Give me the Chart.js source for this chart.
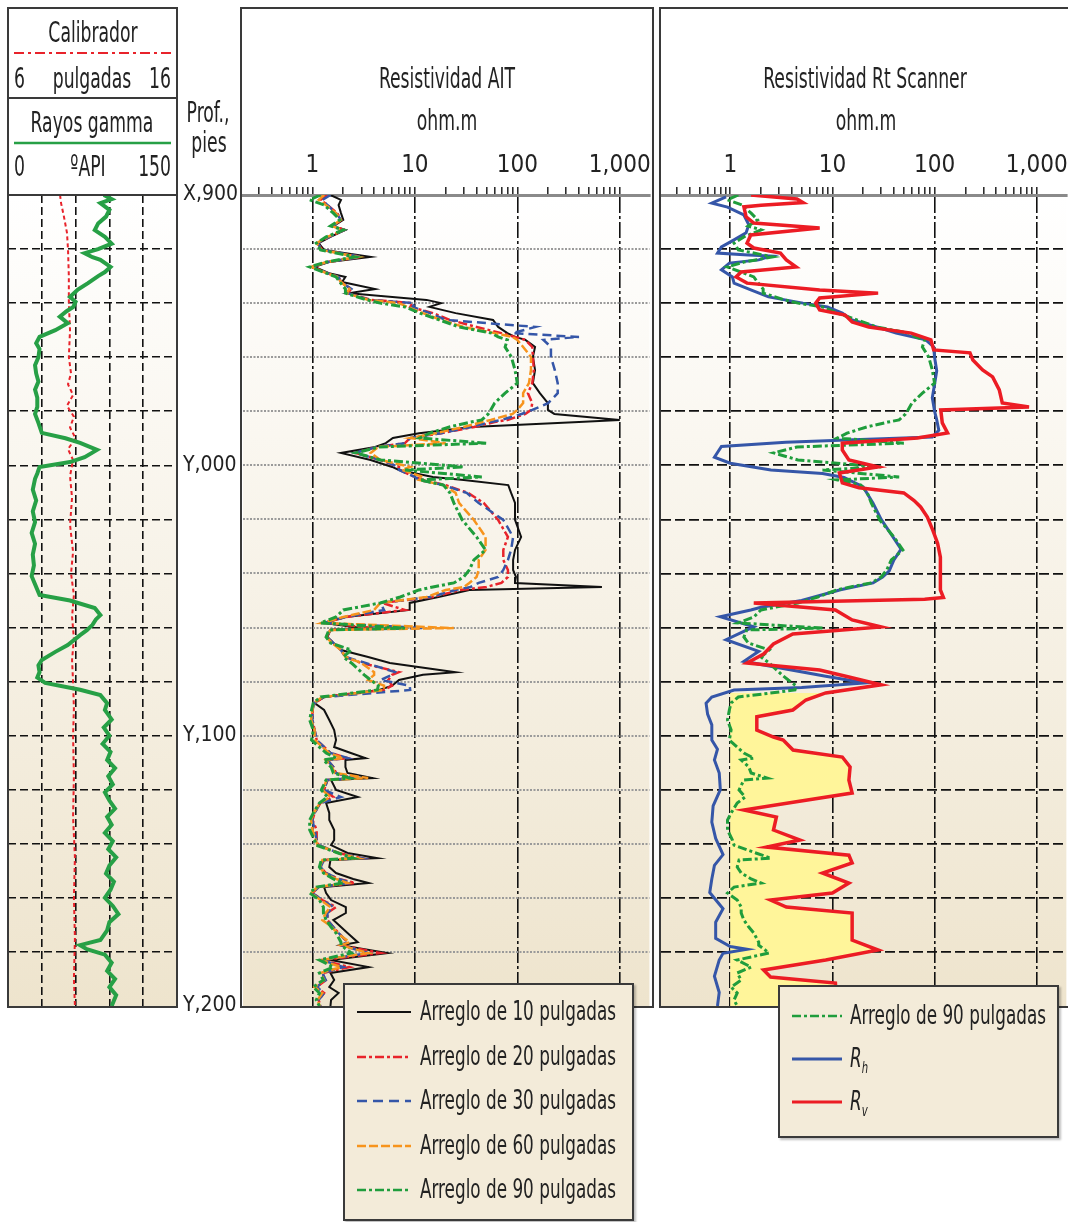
<!DOCTYPE html>
<html lang="es">
<head>
<meta charset="utf-8">
<title>Resistividad AIT y Rt Scanner</title>
<script src="https://cdn.jsdelivr.net/npm/chart.js@4.4.1/dist/chart.umd.min.js"></script>
<style>
  html, body { margin: 0; padding: 0; }
  body { width: 1068px; height: 1222px; overflow: hidden; position: relative; background: #fff;
         font-family: "Liberation Sans Narrow", "Arial Narrow", "DejaVu Sans Condensed", sans-serif; color: #222; }
  .box { position: absolute; border: 2px solid #3a3a3a; box-sizing: border-box; pointer-events: none; z-index: 2; }
  .hline { position: absolute; height: 0; border-top: 2px solid #3a3a3a; z-index: 2; }
  .plot { position: absolute; z-index: 1; }
  .lbl { position: absolute; white-space: nowrap; z-index: 3; }
  .legend { position: absolute; background: #f3ebd9; border: 2px solid #3a3a3a; box-sizing: border-box;
            box-shadow: 2px 2px 2px rgba(0,0,0,0.25); z-index: 4; }
  .legend svg { position: absolute; }
</style>
</head>
<body>

<div class="plot" style="left:8px;top:195px;width:169px;height:811px"><canvas id="track1" width="169" height="811"></canvas></div>
<div class="plot" style="left:183px;top:150px;width:475px;height:876px"><canvas id="track2" width="475" height="876"></canvas></div>
<div class="plot" style="left:661px;top:150px;width:414px;height:876px"><canvas id="track3" width="414" height="876"></canvas></div>

<div class="box" style="left:7px;top:7px;width:171px;height:1001px"></div>
<div class="hline" style="left:7px;top:97px;width:171px"></div>
<div class="hline" style="left:7px;top:194px;width:171px"></div>
<div class="box" style="left:240px;top:7px;width:414px;height:1001px"></div>
<div class="box" style="left:659px;top:7px;width:420px;height:1001px"></div>

<svg style="position:absolute;left:0;top:0;z-index:3" width="180" height="160">
  <line x1="14" y1="53" x2="171" y2="53" stroke="#e8232b" stroke-width="2" stroke-dasharray="10,4,3,4"/>
  <line x1="14" y1="143" x2="171" y2="143" stroke="#27a046" stroke-width="2.5"/>
</svg>

<div class="legend" id="legend1" style="left:343px;top:983px;width:291px;height:238px"></div>
<div class="legend" id="legend2" style="left:778px;top:985px;width:281px;height:153px"></div>

<script>
// depth in feet below X,900 (0 = X,900, 300 = Y,200)
const depthGrid = [0, 20, 40, 60, 80, 100, 120, 140, 160, 180, 200, 220, 240, 260, 280, 300];
const depthMarks = [0, 100, 200, 300];
const depthLabels = ['X,900', 'Y,000', 'Y,100', 'Y,200'];

const logTicks = [0.3, 0.4, 0.5, 0.6, 0.7, 0.8, 0.9, 1, 2, 3, 4, 5, 6, 7, 8, 9, 10, 20, 30, 40, 50, 60, 70, 80, 90,
                  100, 200, 300, 400, 500, 600, 700, 800, 900, 1000];
const decadeValues = [1, 10, 100, 1000];
const decadeLabels = ['1', '10', '100', '1,000'];
const grTicks = [0, 30, 60, 90, 120, 150];

// caliper (in)
const calDepth = [0, 3, 8, 14, 20, 30, 40, 50, 60, 66, 70, 74, 78, 82, 86, 90, 94, 98, 104, 112, 122, 132, 140, 148,
                  156, 164, 172, 180, 190, 200, 215, 230, 245, 260, 275, 290, 300];
const calVal = [9.08, 9.14, 9.31, 9.49, 9.55, 9.6, 9.6, 9.67, 9.6, 9.73, 9.55, 9.85, 9.49, 9.9, 9.67, 10.0, 9.55, 9.85,
                9.67, 9.79, 9.67, 9.85, 9.73, 9.9, 9.79, 9.9, 9.79, 9.85, 9.9, 9.85, 9.9, 9.85, 9.96, 9.9, 9.96, 9.9, 9.96];

// gamma ray (API)
const grDepth = [0, 1.5, 3, 5.5, 8, 10.5, 13, 15.5, 18, 20, 21.5, 23, 24, 26.6, 28.5, 30, 32.6, 35, 37.7, 39.5, 41.4,
                 43, 45, 47.4, 50, 52.5, 54.8, 57, 60, 63, 66, 69, 72, 75, 78.4, 81, 84.3, 88, 90, 91.7, 94.3, 97,
                 98.8, 100.6, 103, 105, 109, 113, 117, 121, 125, 129, 133, 137, 141, 144, 148, 150, 152.8, 155.4, 157,
                 159, 161, 162.8, 166.5, 169, 172, 174, 176.5, 178.5, 180.5, 183, 185, 188, 190.5, 194, 197, 200, 203,
                 206, 209, 212, 215, 218, 221, 224, 227, 230, 233, 236, 239, 242, 245, 248, 251, 254, 257, 260, 263,
                 266, 269, 272, 275.6, 277.5, 279, 281, 284, 287, 290, 293, 296, 300];
const grVal = [85, 92, 82, 90, 87, 80, 77, 86, 92, 80, 68, 75, 82, 91, 86, 80, 71, 62, 55, 60, 58,
               52, 46, 53, 42, 28, 25, 28, 27, 24, 25, 27, 24, 26, 26, 24, 27, 30, 51, 64, 79, 68,
               55, 28, 26, 24, 22, 25, 22, 24, 21, 24, 22, 23, 21, 24, 28, 55, 77, 82, 78,
               75, 70, 64, 53, 42, 30, 27, 28, 26, 33, 64, 82, 88, 86, 92, 85, 90, 84,
               91, 88, 95, 89, 93, 86, 90, 95, 88, 92, 86, 93, 89, 96, 90, 87, 94, 91, 86, 93,
               98, 90, 88, 82, 64, 70, 86, 92, 88, 95, 90, 96, 92];

// AIT array resistivities (ohm.m), one shared depth list
const aitDepth = [0, 1.8, 3.7, 6.7, 9.2, 11.5, 12.9, 15.5, 17.8, 20.3,
  22.9, 24.8, 26.6, 28.9, 30.3, 32.2, 34.8, 36.3, 38.8, 40.0,
  41.4, 43.7, 46.2, 48.8, 51.1, 52.5, 53.6, 56.2, 59.9, 64.7,
  69.6, 73.3, 77.0, 79.5, 81.0, 83.2, 84.0, 85.8, 88.1, 89.9,
  91.8, 93.2, 95.4, 98.0, 100.6, 101.7, 104.3, 105.4, 107.3, 110.2,
  113.9, 120.2, 126.5, 131.3, 135.0, 138.7, 141.3, 143.5, 145.0, 146.1,
  148.7, 150.9, 153.5, 156.1, 158.3, 160.2, 160.9, 163.5, 165.7, 168.3,
  170.9, 173.1, 176.5, 177.5, 179.4, 181.5, 183.1, 185.7, 187.9, 190.5,
  194.2, 197.9, 201.6, 204.2, 206.4, 208.3, 209.0, 211.6, 213.8, 215.7,
  216.4, 220.1, 222.7, 224.9, 228.6, 231.2, 234.9, 238.6, 240.5, 243.4,
  245.3, 246.0, 248.6, 250.8, 253.0, 254.5, 256.0, 258.2, 260.8, 263.4,
  265.6, 268.2, 270.8, 273.0, 276.4, 277.5, 280.4, 283.0, 285.6, 287.8,
  290.4, 293.0, 295.2, 297.8, 300];
const ait10 = [1.5, 1.9, 1.8, 1.9, 2.0, 1.6, 2.1, 1.5, 1.15, 1.3,
  3.7, 1.45, 1.05, 1.45, 2.1, 1.95, 4.1, 2.3, 13, 18,
  13.9, 25, 58, 65, 80, 95, 120, 149, 142, 149,
  142, 166, 199, 199, 230, 1000, 400, 36, 11, 6.1,
  5.2, 4.1, 1.9, 3.7, 6, 7, 15, 30, 81.6, 87,
  95, 95, 109, 95, 91, 91, 97, 95, 670, 34,
  17, 8.9, 8.9, 2.1, 1.3, 3, 1.5, 1.4, 1.6, 1.9,
  3.5, 5.7, 25, 12, 7, 6, 4.5, 1.3, 1.05, 1.3,
  1.46, 1.63, 1.7, 1.63, 2.37, 3.3, 2.1, 2.1, 2.2, 3.86,
  1.52, 1.7, 2.77, 1.36, 1.46, 1.46, 1.63, 1.63, 1.52, 2.2,
  4.3, 1.5, 1.46, 1.7, 2.5, 3.54, 1.3, 1.36, 1.52, 2.12,
  2.12, 1.6, 1.9, 2.2, 2.77, 1.9, 5.4, 1.5, 3.54, 1.5,
  1.63, 1.46, 1.8, 1.52, 1.5];
const ait20 = [1.4, 1.2, 1.4, 1.75, 1.9, 1.6, 2.05, 1.45, 1.12, 1.25,
  3.0, 1.4, 1.0, 1.4, 1.8, 1.9, 2.4, 2.2, 3.8, 9.5,
  9, 15, 22, 40, 70, 95, 120, 140, 142, 145,
  140, 127, 140, 136, 120, 80, 60, 38, 18, 9,
  8, 4.3, 2.6, 4.6, 7, 7, 10, 12, 20, 33,
  47, 65, 81, 73, 73, 81, 81, 70, 50, 28,
  15, 4.8, 8, 2.1, 1.3, 4, 1.5, 1.38, 1.6, 1.9,
  2.1, 3, 7, 6, 5.5, 6, 5, 1.3, 1.05, 1.0,
  1.0, 1.05, 1.1, 1.3, 1.5, 2.2, 1.4, 1.6, 1.7, 2.5,
  1.4, 1.3, 1.6, 1.2, 1.05, 1.0, 1.1, 1.1, 1.15, 1.8,
  3, 1.3, 1.2, 1.35, 1.8, 2.6, 1.15, 1.0, 1.25, 1.7,
  1.4, 1.4, 1.6, 1.8, 2.2, 1.9, 4.6, 1.25, 2.3, 1.25,
  1.35, 1.1, 1.3, 1.15, 1.2];
const ait30 = [1.5, 1.25, 1.4, 1.7, 1.9, 1.6, 2.05, 1.45, 1.12, 1.25,
  3.0, 1.4, 1.0, 1.4, 1.8, 1.9, 2.4, 2.2, 3.6, 10,
  9.5, 14, 20, 150, 90, 400, 180, 213, 213, 232,
  248, 248, 200, 140, 110, 70, 55, 35, 18, 9,
  8, 4.3, 2.6, 4.6, 7, 7, 10, 11, 19, 32,
  42, 73, 91, 87, 81, 73, 65, 42, 35, 25,
  14, 4.6, 5, 2.1, 1.3, 12, 1.5, 1.38, 1.6, 1.9,
  2.1, 3.3, 6.4, 6, 4.6, 8.9, 9, 1.3, 1.05, 1.0,
  1.0, 1.05, 1.1, 1.3, 1.5, 2.2, 1.4, 1.6, 1.7, 2.5,
  1.4, 1.3, 1.9, 1.2, 1.05, 1.0, 1.05, 1.1, 1.15, 1.8,
  3, 1.3, 1.2, 1.35, 1.8, 2.4, 1.15, 1.0, 1.25, 1.6,
  1.4, 1.4, 1.6, 1.8, 2.2, 1.9, 3.5, 1.25, 2.0, 1.25,
  1.35, 1.1, 1.3, 1.15, 1.2];
const ait60 = [1.3, 1.15, 1.35, 1.7, 1.9, 1.55, 2.0, 1.4, 1.1, 1.22,
  2.8, 1.38, 0.97, 1.38, 1.75, 1.9, 2.3, 2.15, 3.5, 7,
  8.5, 12, 18, 30, 60, 90, 100, 114, 136, 136,
  130, 114, 114, 100, 90, 55, 45, 30, 16, 9,
  20, 4.4, 3.7, 4.6, 9, 7.5, 12, 11, 19, 25,
  27, 37.7, 49, 49, 42, 42, 40, 34, 30, 20,
  13, 4.6, 4, 2.0, 1.25, 24, 1.5, 1.36, 1.55, 1.9,
  2.1, 3, 4, 4, 3.5, 5, 5, 1.25, 1.03, 1.0,
  0.97, 1.05, 1.05, 1.25, 1.45, 2.0, 1.35, 1.55, 1.65, 3.5,
  1.38, 1.25, 1.5, 1.18, 1.03, 0.97, 1.0, 1.08, 1.12, 1.8,
  2.8, 1.25, 1.18, 1.3, 1.7, 2.2, 1.12, 0.97, 1.2, 1.5,
  1.35, 1.25, 1.55, 1.75, 2.3, 1.9, 3.5, 1.2, 1.9, 1.2,
  1.3, 1.05, 1.25, 1.12, 1.18];
const ait90 = [1.2, 0.94, 1.3, 1.6, 1.85, 1.5, 2.0, 1.36, 1.09, 1.2,
  2.6, 1.36, 0.94, 1.36, 1.7, 1.85, 2.1, 2.1, 3.4, 4.6,
  8.0, 11.2, 17.3, 27, 56, 65, 80, 76, 87.5, 95,
  100, 76, 60, 55, 52, 45, 35, 21.7, 13.9, 11.2,
  50, 4.5, 2.65, 4.6, 30, 8, 45, 11.2, 19, 22,
  24, 29, 40, 49, 37.7, 34, 30, 24, 15, 11,
  7.2, 4.6, 2, 1.7, 1.2, 8, 1.45, 1.36, 1.5, 2.4,
  2.0, 2.4, 3.0, 3.2, 3.7, 4.4, 4.3, 1.2, 1.02, 0.98,
  0.94, 1.02, 0.98, 1.17, 1.36, 1.7, 1.28, 1.52, 1.6, 2.3,
  1.36, 1.22, 1.4, 1.17, 1.02, 0.94, 0.94, 1.05, 1.09, 1.78,
  2.5, 1.22, 1.17, 1.28, 1.6, 2.0, 1.09, 0.94, 1.17, 1.28,
  1.28, 1.36, 1.52, 1.7, 1.9, 1.9, 2.4, 1.17, 1.6, 1.17,
  1.28, 1.02, 1.17, 1.09, 1.17];

// Rt Scanner: horizontal (Rh) and vertical (Rv) resistivity
const rhDepth = [0.7, 3, 4.5, 7.4, 11, 14, 16.6, 19.2, 21.5, 22.2,
  22.6, 24, 25.2, 27.7, 30.3, 32.6, 35.1, 37.7, 40, 41.4,
  43.7, 46.2, 48.8, 51.1, 53.6, 56.2, 60, 65, 70, 75,
  80, 83.2, 87, 89.5, 90.5, 91.5, 93, 97, 99.2, 101.7,
  103, 104.5, 108, 114, 120, 127, 131, 135, 139, 141.3,
  143.5, 146, 150, 152.5, 153.5, 156, 159.7, 164.5, 168.8, 172.5,
  178, 180.5, 182.2, 183.1, 185.7, 188, 192, 196, 201.6, 205,
  209, 213.8, 220, 226, 232, 238, 244, 248, 253, 258,
  264, 269, 275, 278, 279, 280.5, 283, 289, 295, 300];
const rhVal = [0.91, 0.66, 0.94, 1.36, 1.52, 1.43, 1.09, 0.82, 0.75, 1.5,
  2.5, 1.9, 0.98, 0.82, 1.05, 1.09, 1.59, 2.37, 5.15, 8.94,
  12.5, 15.6, 27, 42, 82, 98, 100, 105, 100, 95,
  100, 105, 110, 95, 16, 3.5, 0.82, 0.7, 1.0, 2.5,
  8, 13, 20, 25, 30, 40, 47, 40, 36, 31,
  25, 12, 5, 2, 1.59, 0.8, 1.7, 0.91, 1.9, 1.36,
  8.6, 21, 5, 1.09, 0.66, 0.58, 0.6, 0.66, 0.66, 0.75,
  0.7, 0.78, 0.8, 0.68, 0.66, 0.72, 0.85, 0.7, 0.66, 0.63,
  0.85, 0.72, 0.72, 1.0, 1.46, 0.85, 0.78, 0.7, 0.78, 0.75];
const rvDepth = [0, 1.5, 2.8, 3.8, 4.4, 8.1, 10.4, 12.2, 14.8, 17.8,
  19.6, 21.5, 24, 26.6, 28.5, 30.3, 32.6, 35.1, 36.3, 38.1,
  40, 42.5, 44.4, 47, 48.8, 51.1, 53.6, 57.3, 58.4, 61,
  64.7, 67.3, 72.1, 76.9, 78.4, 79.5, 84.3, 88, 89.9, 91.8,
  94.3, 98, 100.6, 102.8, 106.5, 108.3, 110.2, 113, 115.4, 119.1,
  124, 128.8, 134, 138.7, 146.1, 148.9, 149.5, 150.9, 153.5, 157.2,
  159.8, 162.4, 166.1, 169.8, 173.1, 175.7, 178.3, 181.2, 184.2, 186.8,
  190.5, 193, 197.9, 200.5, 201.6, 205.3, 207.9, 211.6, 216.4, 221.2,
  224.6, 227.5, 230.1, 234.9, 238.6, 241.2, 244.2, 247.1, 250.8, 254.5,
  258.2, 260.8, 263.4, 265.6, 270.8, 275.6, 279.3, 283, 286.7, 289.3,
  291.5, 300];
const rvVal = [1.6, 4.5, 5.15, 2, 1.36, 1.43, 1.7, 7.5, 1.59, 1.46,
  1.7, 3.1, 3.54, 4.41, 1.28, 1.14, 1.46, 7.5, 28, 7.5,
  6.86, 7.5, 13.3, 15.6, 22.7, 59, 92, 98, 222, 237,
  295, 370, 430, 460, 840, 115, 119, 134, 68, 12.5,
  12.5, 14.5, 28, 11.7, 12.5, 18.2, 50, 63, 73, 85,
  96, 107, 114, 114, 114, 122, 80, 1.7, 10.7, 15.6,
  30, 4.1, 2.65, 2.12, 1.46, 7.5, 14.5, 30, 8.6, 5.5,
  4.1, 1.82, 1.82, 2.65, 3.3, 4.12, 12.5, 14.9, 14.5, 15.6,
  4.12, 1.36, 2.83, 2.65, 4.81, 2.27, 14.5, 15.6, 8.0, 14.5,
  10, 2.48, 3.54, 15.6, 15.6, 15.6, 28, 8.6, 2.12, 2.48,
  10.7, 11];
const anisoTop = 183; // yellow shading starts here

const NARROW = '"Liberation Sans Narrow", "Arial Narrow", "DejaVu Sans Condensed", sans-serif';
const LOG_MIN = 0.21;
const LOG_MAX = 1950;

function pts(depths, vals) {
    return depths.map((d, i) => ({ x: vals[i], y: d }));
}

// beige gradient behind each plot area
const plotBackground = {
    id: 'plotBackground',
    beforeDraw(chart) {
        const { ctx, chartArea: a } = chart;
        const g = ctx.createLinearGradient(0, a.top, 0, a.bottom);
        g.addColorStop(0, '#ffffff');
        g.addColorStop(1, '#eee4cd');
        ctx.save();
        ctx.fillStyle = g;
        ctx.fillRect(a.left, a.top, a.right - a.left, a.bottom - a.top);
        ctx.restore();
    }
};

function curve(label, data, color, width, dash, order, xAxisID) {
    return {
        label: label, data: data, borderColor: color, borderWidth: width, borderDash: dash,
        pointRadius: 0, fill: false, tension: 0, order: order, xAxisID: xAxisID || 'x'
    };
}

function logAxis() {
    return {
        type: 'logarithmic', position: 'top', min: LOG_MIN, max: LOG_MAX,
        afterBuildTicks: s => { s.ticks = logTicks.map(v => ({ value: v })); },
        afterFit: s => { s.height = 45; },
        ticks: {
            autoSkip: false, maxRotation: 0, minRotation: 0, padding: 7, color: '#222',
            font: { family: NARROW, size: 24 },
            callback: v => {
                const i = decadeValues.indexOf(v);
                return i >= 0 ? decadeLabels[i] : '';
            }
        },
        grid: {
            color: c => (c.tick && decadeValues.includes(c.tick.value)) ? '#111' : 'rgba(0,0,0,0)',
            lineWidth: 1.6, tickLength: 8, tickColor: '#222', tickWidth: 1.5
        },
        border: { display: true, color: '#8a8a8a', width: 3, dash: [16, 3, 3, 3] }
    };
}

const baseOptions = {
    indexAxis: 'y',
    responsive: false,
    animation: false,
    devicePixelRatio: 1,
    plugins: { legend: { display: false }, tooltip: { enabled: false } }
};

function initTrack1() {
    const ctx = document.getElementById('track1').getContext('2d');
    new Chart(ctx, {
        type: 'line',
        data: {
            datasets: [
                curve('Rayos gamma', pts(grDepth, grVal), '#27a046', 4, [], 1, 'xgr'),
                curve('Calibrador', pts(calDepth, calVal), '#e8232b', 2, [4, 3], 2, 'xcal')
            ]
        },
        options: Object.assign({}, baseOptions, {
            layout: { padding: 0 },
            scales: {
                xgr: {
                    type: 'linear', position: 'top', min: 0, max: 150,
                    afterBuildTicks: s => { s.ticks = grTicks.map(v => ({ value: v })); },
                    afterFit: s => { s.height = 0; },
                    ticks: { display: false },
                    grid: {
                        drawTicks: false, lineWidth: 1.6,
                        color: c => (c.tick && c.tick.value > 0 && c.tick.value < 150) ? '#111' : 'rgba(0,0,0,0)'
                    },
                    border: { display: false, dash: [8, 4] }
                },
                xcal: { type: 'linear', min: 6, max: 16, display: false },
                y: {
                    type: 'linear', reverse: true, min: 0, max: 300,
                    afterBuildTicks: s => { s.ticks = depthGrid.map(v => ({ value: v })); },
                    afterFit: s => { s.width = 0; },
                    ticks: { display: false },
                    grid: {
                        drawTicks: false, lineWidth: 1.6,
                        color: c => (c.tick && c.tick.value > 0 && c.tick.value < 300) ? '#111' : 'rgba(0,0,0,0)'
                    },
                    border: { display: false, dash: [8, 4] }
                }
            }
        }),
        plugins: [plotBackground]
    });
}

function initTrack2() {
    const ctx = document.getElementById('track2').getContext('2d');
    new Chart(ctx, {
        type: 'line',
        data: {
            datasets: [
                curve('Arreglo de 10 pulgadas', pts(aitDepth, ait10), '#111111', 2, [], 5),
                curve('Arreglo de 20 pulgadas', pts(aitDepth, ait20), '#e8232b', 2.5, [9, 3, 3, 3], 4),
                curve('Arreglo de 30 pulgadas', pts(aitDepth, ait30), '#3556a8', 2.5, [9, 5], 3),
                curve('Arreglo de 60 pulgadas', pts(aitDepth, ait60), '#f7941d', 2.5, [9, 3], 2),
                curve('Arreglo de 90 pulgadas', pts(aitDepth, ait90), '#1f9d3c', 3, [9, 3, 3, 3], 1)
            ]
        },
        options: Object.assign({}, baseOptions, {
            layout: { padding: { left: 0, right: 5, top: 0, bottom: 20 } },
            scales: {
                x: logAxis(),
                y: {
                    type: 'linear', reverse: true, min: 0, max: 300, position: 'left',
                    afterBuildTicks: s => { s.ticks = depthGrid.map(v => ({ value: v })); },
                    afterFit: s => { s.width = 60; },
                    ticks: {
                        autoSkip: false, padding: 0, crossAlign: 'far', color: '#222',
                        font: { family: NARROW, size: 21 },
                        callback: v => {
                            const i = depthMarks.indexOf(v);
                            return i >= 0 ? depthLabels[i] : '';
                        }
                    },
                    grid: {
                        drawTicks: false, lineWidth: 2,
                        color: c => (c.tick && c.tick.value > 0 && c.tick.value < 300) ? '#9a9a9a' : 'rgba(0,0,0,0)'
                    },
                    border: { display: false, dash: [2, 1.5] }
                }
            }
        }),
        plugins: [plotBackground]
    });
}

function initTrack3() {
    const ctx = document.getElementById('track3').getContext('2d');
    const shaded = pts(rvDepth, rvVal).filter(p => p.y >= anisoTop);
    new Chart(ctx, {
        type: 'line',
        data: {
            datasets: [
                {
                    label: 'anisotropia', data: shaded, borderWidth: 0, pointRadius: 0, tension: 0,
                    fill: { value: 1 }, backgroundColor: '#fff59a', order: 10
                },
                curve('Arreglo de 90 pulgadas', pts(aitDepth, ait90), '#1f9d3c', 3, [9, 3, 3, 3], 2),
                curve('Rh', pts(rhDepth, rhVal), '#3556a8', 3, [], 3),
                curve('Rv', pts(rvDepth, rvVal), '#ec1c24', 3.5, [], 1)
            ]
        },
        options: Object.assign({}, baseOptions, {
            layout: { padding: { left: 0, right: 5, top: 0, bottom: 20 } },
            scales: {
                x: logAxis(),
                y: {
                    type: 'linear', reverse: true, min: 0, max: 300,
                    afterBuildTicks: s => { s.ticks = depthGrid.map(v => ({ value: v })); },
                    afterFit: s => { s.width = 0; },
                    ticks: { display: false },
                    grid: {
                        drawTicks: false, lineWidth: 1.8,
                        color: c => (c.tick && c.tick.value > 0 && c.tick.value < 300) ? '#111' : 'rgba(0,0,0,0)'
                    },
                    border: { display: false, dash: [10, 4] }
                }
            }
        }),
        plugins: [plotBackground]
    });
}

// plain html text, condensed horizontally like the original lettering
function addText(html, x, y, size, align, sx) {
    const el = document.createElement('div');
    el.className = 'lbl';
    el.innerHTML = html;
    el.style.fontSize = size + 'px';
    el.style.lineHeight = (size * 1.2) + 'px';
    el.style.top = (y - size * 0.6) + 'px';
    if (align === 'center') {
        el.style.left = (x - 200) + 'px'; el.style.width = '400px'; el.style.textAlign = 'center';
        el.style.transformOrigin = 'center';
    } else if (align === 'right') {
        el.style.left = (x - 400) + 'px'; el.style.width = '400px'; el.style.textAlign = 'right';
        el.style.transformOrigin = 'right';
    } else {
        el.style.left = x + 'px'; el.style.transformOrigin = 'left';
    }
    el.style.transform = 'scaleX(' + sx + ')';
    document.body.appendChild(el);
}

function drawHeaders() {
    const sx = 0.66;
    addText('Calibrador', 93, 32, 29, 'center', sx);
    addText('6', 14, 78, 29, 'left', sx);
    addText('pulgadas', 92, 78, 29, 'center', sx);
    addText('16', 171, 78, 29, 'right', sx);
    addText('Rayos gamma', 92, 122, 29, 'center', sx);
    addText('0', 14, 166, 29, 'left', sx);
    addText('ºAPI', 88, 166, 29, 'center', sx);
    addText('150', 171, 166, 29, 'right', sx);
    addText('Prof.,', 208, 112, 29, 'center', sx);
    addText('pies', 209, 142, 29, 'center', sx);
    addText('Resistividad AIT', 447, 78, 29, 'center', sx);
    addText('ohm.m', 447, 120, 29, 'center', sx);
    addText('Resistividad Rt Scanner', 865, 78, 29, 'center', sx);
    addText('ohm.m', 866, 120, 29, 'center', sx);
}

function legendRow(box, html, y, color, width, dash, x1, x2, tx) {
    const svg = document.createElementNS('http://www.w3.org/2000/svg', 'svg');
    svg.setAttribute('width', x2 + 4);
    svg.setAttribute('height', 10);
    svg.style.left = '0px';
    svg.style.top = (y - 5) + 'px';
    const line = document.createElementNS('http://www.w3.org/2000/svg', 'line');
    line.setAttribute('x1', x1); line.setAttribute('x2', x2);
    line.setAttribute('y1', 5); line.setAttribute('y2', 5);
    line.setAttribute('stroke', color);
    line.setAttribute('stroke-width', width);
    if (dash) line.setAttribute('stroke-dasharray', dash);
    svg.appendChild(line);
    box.appendChild(svg);
    const t = document.createElement('div');
    t.className = 'lbl';
    t.innerHTML = html;
    t.style.fontSize = '26px';
    t.style.lineHeight = '31px';
    t.style.left = tx + 'px';
    t.style.top = (y - 16) + 'px';
    t.style.transformOrigin = 'left';
    t.style.transform = 'scaleX(0.72)';
    box.appendChild(t);
}

function drawLegends() {
    const l1 = document.getElementById('legend1');
    legendRow(l1, 'Arreglo de 10 pulgadas', 27, '#111', 2, '', 12, 66, 75);
    legendRow(l1, 'Arreglo de 20 pulgadas', 72, '#e8232b', 2.5, '9,3,3,3', 12, 66, 75);
    legendRow(l1, 'Arreglo de 30 pulgadas', 116, '#3556a8', 2.5, '10,6', 12, 66, 75);
    legendRow(l1, 'Arreglo de 60 pulgadas', 161, '#f7941d', 2.5, '9,3', 12, 66, 75);
    legendRow(l1, 'Arreglo de 90 pulgadas', 205, '#1f9d3c', 2.5, '9,3,3,3', 12, 66, 75);
    const l2 = document.getElementById('legend2');
    legendRow(l2, 'Arreglo de 90 pulgadas', 29, '#1f9d3c', 2.5, '9,3,3,3', 12, 62, 70);
    legendRow(l2, '<i>R<sub style="font-size:60%">h</sub></i>', 72, '#3556a8', 3, '', 12, 62, 70);
    legendRow(l2, '<i>R<sub style="font-size:60%">v</sub></i>', 115, '#ec1c24', 3, '', 12, 62, 70);
}

document.addEventListener('DOMContentLoaded', () => {
    drawHeaders();
    drawLegends();
    initTrack1();
    initTrack2();
    initTrack3();
});
</script>
</body>
</html>
